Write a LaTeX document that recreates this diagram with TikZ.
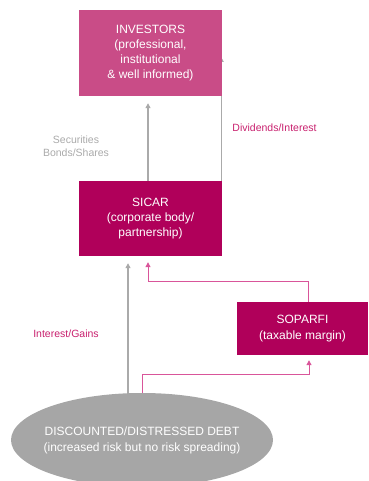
\documentclass[tikz,border=0pt]{standalone}
\usepackage{fontspec}
\setmainfont{Liberation Sans}
\usepackage{tikz}
\usetikzlibrary{arrows.meta,shapes,positioning,calc,backgrounds}
\definecolor{investpink}{RGB}{201,76,135}
\definecolor{sicarred}{RGB}{176,0,90}
\definecolor{linepink}{RGB}{217,85,154}
\definecolor{labelpink}{RGB}{200,32,110}
\definecolor{debtgray}{RGB}{166,166,166}
\definecolor{arrowgray}{RGB}{170,170,170}

\begin{document}
\begin{tikzpicture}[x=1pt, y=-1pt,
    box/.style={rectangle, text=white, inner sep=0pt, align=center, font=\fontsize{12}{15.2}\selectfont},
    arrow/.style={-{Triangle[length=5pt,width=5pt]}, draw=arrowgray, line width=1.2pt},
    pinkarrow/.style={-{Triangle[length=5pt,width=5pt]}, draw=linepink, line width=1pt},
    label/.style={align=center, font=\fontsize{10.5}{13}\selectfont}
]
    \useasboundingbox (0,0) rectangle (368,481);

    \node[box, fill=investpink, minimum width=143pt, minimum height=86pt] (investors) at (150.5,53) {INVESTORS\\(professional,\\institutional\\\& well informed)};
    \node[box, fill=sicarred, minimum width=143pt, minimum height=75pt] (sicar) at (150.5,218.5) {SICAR\\(corporate body/\\partnership)};
    \node[box, fill=sicarred, minimum width=131pt, minimum height=53pt] (soparfi) at (302.5,328.5) {SOPARFI\\(taxable margin)};
    \node[ellipse, fill=debtgray, text=white, inner xsep=-16pt, inner ysep=0pt, minimum width=262pt, minimum height=94pt, align=center, font=\fontsize{12}{16}\selectfont] (debt) at (142,440) {DISCOUNTED/DISTRESSED DEBT\\(increased risk but no risk spreading)};

    \node[label, text=arrowgray] (securities) at (76,146) {Securities\\Bonds/Shares};
    \node[label, text=labelpink] (dividends) at (274.5,128) {Dividends/Interest};
    \node[label, text=labelpink] (gains) at (66,334) {Interest/Gains};

    \draw[arrow, shorten >=7pt] ([xshift=-2.5pt]sicar.north) -- ([xshift=-2.5pt]investors.south);
    \draw[pinkarrow, shorten >=6pt] ([xshift=5.5pt]soparfi.north) -- ++(0,-20) -| ([xshift=-2.5pt]sicar.south);

    \begin{pgfonlayer}{background}
        \draw[arrow] ([xshift=-1pt]sicar.north east) -- ([xshift=-1pt,yshift=-4pt]sicar.north east |- investors.east);
        \draw[arrow, shorten >=7pt] ([xshift=-14pt]debt.center) -- ([xshift=-22.5pt]sicar.south);
        \draw[pinkarrow, shorten >=5pt] (debt.center) |- ($(soparfi.south)+(6.5,19)$) -- ([xshift=6.5pt]soparfi.south);
    \end{pgfonlayer}
\end{tikzpicture}
\end{document}
